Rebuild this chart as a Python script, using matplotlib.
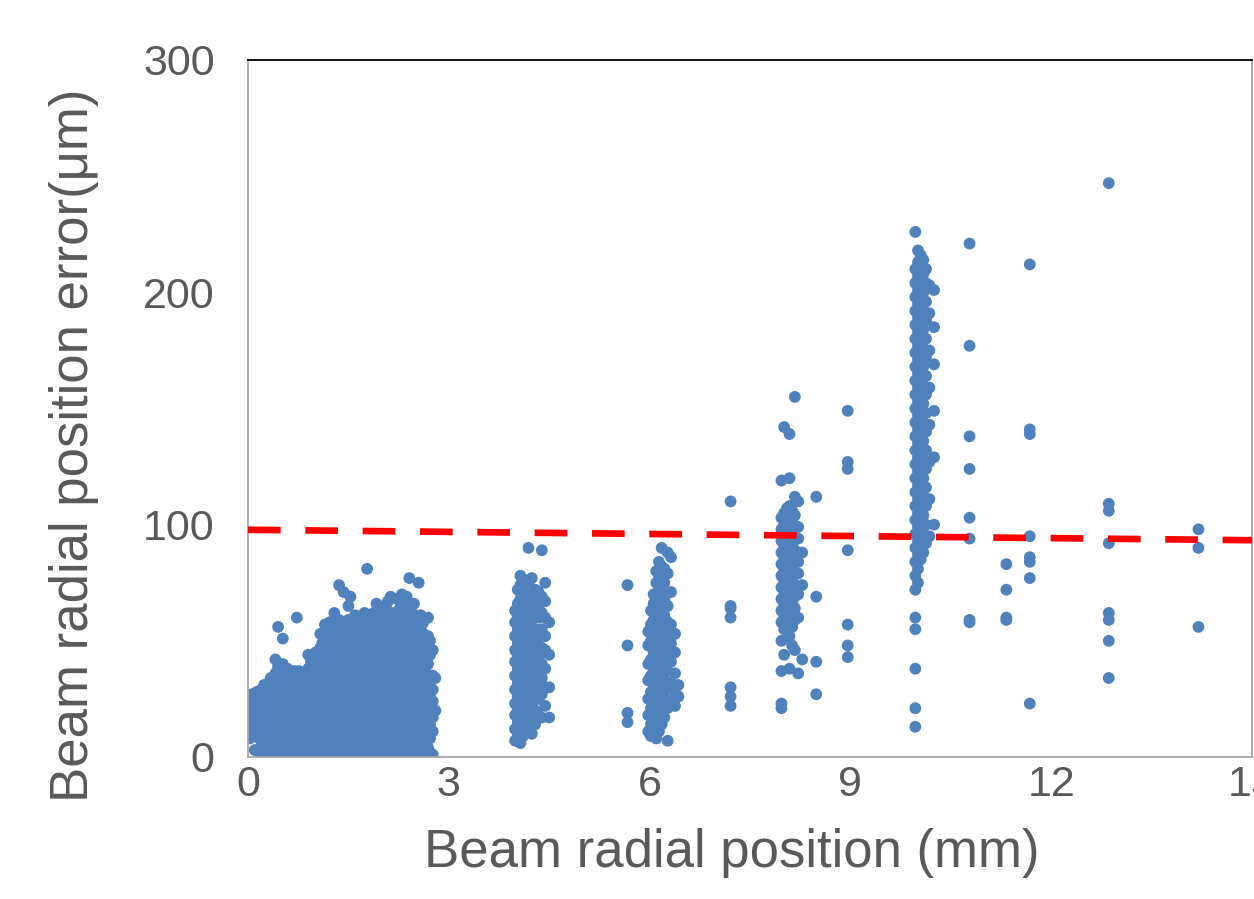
import matplotlib
matplotlib.use("Agg")
import matplotlib.pyplot as plt

# ---------------- data ----------------
# each group: (x position in mm, [y values in micrometres])
cluster_cols = [
    (0.00, [15, 21]),
    (0.03, [8, 13, 24]),
    (0.06, [11, 17, 22, 27]),
    (0.10, [3, 9, 14, 19, 25]),
    (0.13, [12, 17, 23, 28]),
    (0.17, [2, 8, 15, 20, 26]),
    (0.20, [5, 11, 16, 23, 29]),
    (0.24, [9, 14, 19, 25, 31]),
    (0.27, [6, 12, 18, 23, 28]),
    (0.31, [2, 8, 14, 21, 26, 32]),
    (0.34, [5, 11, 17, 23, 29, 34]),
    (0.38, [9, 15, 20, 27, 33]),
    (0.41, [1, 7, 12, 19, 25, 31, 36, 42]),
    (0.45, [4, 10, 16, 22, 29, 34, 39, 56]),
    (0.48, [2, 8, 14, 19, 26, 32, 37]),
    (0.52, [5, 11, 17, 24, 29, 35, 40, 51]),
    (0.55, [1, 7, 13, 19, 25, 31, 36]),
    (0.59, [4, 10, 16, 21, 28, 33, 38]),
    (0.62, [2, 8, 14, 20, 26, 31, 36]),
    (0.66, [5, 11, 17, 23, 29, 35]),
    (0.69, [1, 7, 12, 19, 25, 30, 37]),
    (0.73, [4, 10, 16, 22, 28, 34, 60]),
    (0.76, [2, 8, 14, 20, 26, 32, 37]),
    (0.80, [5, 11, 17, 22, 29, 35]),
    (0.83, [1, 7, 13, 19, 24, 31, 36]),
    (0.87, [4, 10, 16, 22, 28, 34]),
    (0.90, [2, 8, 14, 20, 27, 32, 38, 44]),
    (0.94, [5, 11, 17, 23, 29, 35, 41]),
    (0.97, [1, 7, 13, 18, 25, 31, 37, 43]),
    (1.01, [4, 10, 16, 22, 28, 34, 40, 45]),
    (1.04, [2, 8, 14, 20, 26, 32, 38, 44]),
    (1.08, [5, 11, 17, 23, 29, 35, 41, 47, 53]),
    (1.11, [1, 7, 13, 19, 25, 31, 37, 43, 49]),
    (1.15, [4, 10, 16, 22, 28, 34, 40, 46, 52, 57]),
    (1.18, [2, 8, 14, 20, 26, 32, 38, 44, 50]),
    (1.22, [5, 11, 17, 23, 29, 35, 41, 47, 53, 58]),
    (1.25, [1, 7, 13, 19, 25, 31, 37, 43, 49, 55]),
    (1.29, [4, 10, 16, 22, 28, 34, 40, 46, 52, 58, 62]),
    (1.32, [2, 8, 14, 20, 26, 32, 38, 44, 50, 56]),
    (1.36, [5, 11, 17, 23, 29, 35, 41, 47, 53, 59, 74]),
    (1.39, [1, 7, 13, 19, 25, 31, 37, 43, 49, 55]),
    (1.43, [4, 10, 16, 22, 28, 34, 40, 46, 52, 57, 71]),
    (1.46, [2, 8, 14, 20, 26, 32, 38, 44, 50, 56]),
    (1.50, [5, 11, 17, 23, 29, 35, 41, 47, 53, 59, 65]),
    (1.53, [1, 7, 13, 19, 25, 31, 37, 43, 49, 55, 69]),
    (1.57, [4, 10, 16, 22, 28, 34, 40, 46, 52, 58]),
    (1.60, [2, 8, 14, 20, 26, 32, 38, 44, 50, 56, 61]),
    (1.64, [5, 11, 17, 23, 29, 35, 41, 47, 53, 59]),
    (1.67, [1, 7, 13, 19, 25, 31, 37, 43, 49, 55]),
    (1.71, [4, 10, 16, 22, 28, 34, 40, 46, 52, 58]),
    (1.74, [2, 8, 14, 20, 26, 32, 38, 44, 50, 56, 62]),
    (1.78, [5, 11, 17, 23, 29, 35, 41, 47, 53, 81]),
    (1.81, [1, 7, 13, 19, 25, 31, 37, 43, 49, 55, 61]),
    (1.85, [4, 10, 16, 22, 28, 34, 40, 46, 52, 58]),
    (1.88, [2, 8, 14, 20, 26, 32, 38, 44, 50, 56, 62]),
    (1.92, [5, 11, 17, 23, 29, 35, 41, 47, 53, 59, 66]),
    (1.95, [1, 7, 13, 19, 25, 31, 37, 43, 49, 55]),
    (1.99, [4, 10, 16, 22, 28, 34, 40, 46, 52, 58, 63]),
    (2.02, [2, 8, 14, 20, 26, 32, 38, 44, 50, 56]),
    (2.06, [5, 11, 17, 23, 29, 35, 41, 47, 53, 59, 65]),
    (2.09, [1, 7, 13, 19, 25, 31, 37, 43, 49, 55, 61, 67]),
    (2.13, [4, 10, 16, 22, 28, 34, 40, 46, 52, 58, 69]),
    (2.16, [2, 8, 14, 20, 26, 32, 38, 44, 50, 56, 62]),
    (2.20, [5, 11, 17, 23, 29, 35, 41, 47, 53, 59]),
    (2.23, [1, 7, 13, 19, 25, 31, 37, 43, 49, 55, 61, 68]),
    (2.27, [4, 10, 16, 22, 28, 34, 40, 46, 52, 58, 64]),
    (2.30, [2, 8, 14, 20, 26, 32, 38, 44, 50, 56, 70]),
    (2.34, [5, 11, 17, 23, 29, 35, 41, 47, 53, 59, 65]),
    (2.37, [1, 7, 13, 19, 25, 31, 37, 43, 49, 55, 61, 69]),
    (2.41, [4, 10, 16, 22, 28, 34, 40, 46, 52, 58, 77]),
    (2.44, [2, 8, 14, 20, 26, 32, 38, 44, 50, 56, 62]),
    (2.48, [5, 11, 17, 23, 29, 35, 41, 47, 53, 66]),
    (2.51, [1, 7, 13, 19, 25, 31, 37, 43, 49, 55, 61]),
    (2.55, [4, 10, 16, 22, 28, 34, 40, 46, 52, 58, 75]),
    (2.58, [2, 8, 14, 20, 26, 32, 38, 44, 50, 56, 61]),
    (2.62, [5, 11, 17, 23, 29, 35, 41, 47, 53, 58]),
    (2.65, [1, 7, 13, 19, 25, 31, 37, 43, 49]),
    (2.69, [4, 10, 16, 22, 28, 34, 40, 52, 60]),
    (2.72, [2, 8, 14, 20, 26, 32, 44, 50]),
    (2.76, [1, 11, 17, 24, 29, 35, 46]),
    (2.80, [20, 34]),
]

col4 = [
    (3.99, [7, 12, 18, 23, 29, 35, 41, 46, 52, 58, 63]),
    (4.03, [9, 15, 20, 26, 32, 38, 44, 49, 55, 61, 66, 72]),
    (4.07, [6, 11, 17, 22, 28, 34, 40, 46, 51, 57, 63, 68, 74, 78]),
    (4.11, [9, 14, 20, 25, 31, 37, 43, 48, 54, 60, 65, 71]),
    (4.15, [11, 16, 22, 28, 34, 39, 45, 51, 57, 62, 68, 76]),
    (4.19, [13, 19, 25, 30, 36, 42, 48, 53, 59, 65, 70, 75, 90]),
    (4.24, [10, 16, 22, 28, 33, 39, 45, 50, 56, 62, 67, 77]),
    (4.29, [14, 20, 27, 33, 38, 44, 50, 55, 61, 66, 72]),
    (4.34, [18, 25, 31, 37, 43, 48, 54, 60, 65, 71]),
    (4.39, [17, 27, 34, 40, 47, 55, 62, 69, 89]),
    (4.44, [22, 30, 38, 46, 52, 60, 67, 75]),
    (4.50, [17, 30, 44, 58]),
]

col6 = [
    (5.67, [15, 19, 48, 74]),
    (5.98, [11, 18, 25, 33, 40, 48, 54]),
    (6.02, [9, 14, 21, 28, 35, 42, 50, 57, 63]),
    (6.06, [12, 17, 24, 31, 38, 45, 52, 59, 66, 70]),
    (6.10, [8, 15, 21, 27, 34, 41, 48, 55, 62, 68, 75, 80]),
    (6.14, [11, 19, 25, 32, 38, 45, 52, 58, 65, 72, 78, 84]),
    (6.18, [14, 22, 29, 36, 43, 50, 57, 64, 71, 77, 82, 90]),
    (6.22, [17, 26, 33, 40, 47, 54, 61, 68, 75, 81]),
    (6.27, [7, 21, 30, 37, 44, 51, 58, 65, 79, 88]),
    (6.32, [24, 32, 41, 49, 57, 71, 86]),
    (6.38, [22, 28, 36, 45, 53]),
    (6.43, [26, 31]),
]

col8 = [
    (7.21, [22, 26, 30, 60, 64, 65, 110]),
    (7.97, [21, 23, 37, 50, 58, 63, 68, 73, 78, 83, 88, 93, 98, 103, 119]),
    (8.01, [44, 55, 60, 65, 70, 75, 80, 85, 90, 95, 100, 105, 142]),
    (8.05, [57, 62, 67, 72, 77, 82, 87, 92, 97, 102, 107]),
    (8.09, [38, 52, 58, 63, 68, 73, 78, 83, 88, 93, 98, 103, 108, 120, 139]),
    (8.13, [48, 56, 61, 66, 71, 76, 81, 86, 91, 96, 101, 106]),
    (8.17, [46, 59, 64, 69, 74, 79, 84, 89, 94, 99, 104, 112, 155]),
    (8.22, [36, 60, 70, 79, 84, 94, 99, 110]),
    (8.28, [42, 74, 88]),
    (8.49, [27, 41, 69, 112]),
    (8.96, [43, 48, 57, 89, 124, 127, 149]),
]

col10 = [
    (9.97, [13, 21, 38, 55, 60, 72, 78, 84, 90, 96, 102, 108, 114, 120, 126,
            132, 138, 144, 150, 156, 162, 168, 174, 180, 186, 192, 198, 204,
            210, 226]),
    (10.01, [75, 81, 87, 93, 99, 105, 111, 117, 123, 129, 135, 141, 147, 153,
             159, 165, 171, 177, 183, 189, 195, 201, 207, 213, 218]),
    (10.05, [85, 91, 97, 103, 109, 115, 121, 127, 133, 139, 145, 151, 157,
             163, 169, 175, 181, 187, 193, 199, 205, 211, 216]),
    (10.09, [88, 96, 104, 112, 120, 128, 136, 144, 152, 160, 168, 176, 184,
             192, 200, 208, 214]),
    (10.13, [92, 100, 108, 116, 124, 132, 140, 148, 156, 164, 172, 180, 188,
             196, 204, 210]),
    (10.18, [95, 111, 127, 143, 159, 175, 191, 203]),
    (10.25, [100, 129, 149, 169, 185, 201]),
]

outer_cols = [
    (10.78, [58, 59, 94, 103, 124, 138, 177, 221]),
    (11.33, [59, 60, 72, 83]),
    (11.68, [23, 77, 84, 86, 95, 139, 141, 212]),
    (12.86, [34, 50, 59, 62, 92, 106, 109, 247]),
    (14.20, [56, 90, 98]),
]

trend_x = [0, 15]
trend_y = [97.8, 93.3]

x_ticks = [0, 3, 6, 9, 12, 15]
y_ticks = [0, 100, 200, 300]
x_label = "Beam radial position (mm)"
y_label = "Beam radial position error(μm)"

# ---------------- drawing ----------------
plt.rcParams['font.family'] = ['Liberation Sans', 'DejaVu Sans']

fig = plt.figure(figsize=(12.54, 8.99), dpi=100)
ax = fig.add_axes([248 / 1254, (899 - 757) / 899, 1004 / 1254, 697 / 899])

xs, ys = [], []
for group in (cluster_cols, col4, col6, col8, col10, outer_cols):
    for x, yl in group:
        for y in yl:
            xs.append(x)
            ys.append(y)

ax.scatter(xs, ys, s=72, color='#4F81BD', edgecolors='none', zorder=2)
ax.plot(trend_x, trend_y, color='#FF0000', lw=4.8, dashes=(4.9, 3.7),
        dash_capstyle='butt', zorder=3)

ax.set_xlim(0, 15)
ax.set_ylim(0, 300)
ax.set_xticks(x_ticks)
ax.set_yticks(y_ticks)
ax.tick_params(length=0, labelsize=31, colors='#595959')
ax.tick_params(axis='y', pad=24)
ax.tick_params(axis='x', pad=6)

for side in ('left', 'bottom', 'right'):
    ax.spines[side].set_color('#A6A6A6')
    ax.spines[side].set_linewidth(1.3)
ax.spines['top'].set_color('black')
ax.spines['top'].set_linewidth(1.3)

ax.set_xlabel(x_label, fontsize=38, color='#595959')
ax.set_ylabel(y_label, fontsize=38, color='#595959')
ax.xaxis.set_label_coords((732 - 248) / 1004, -0.102)
ax.yaxis.set_label_coords(-0.148, (757 - 445) / 697)

fig.savefig('out.png', dpi=100)
